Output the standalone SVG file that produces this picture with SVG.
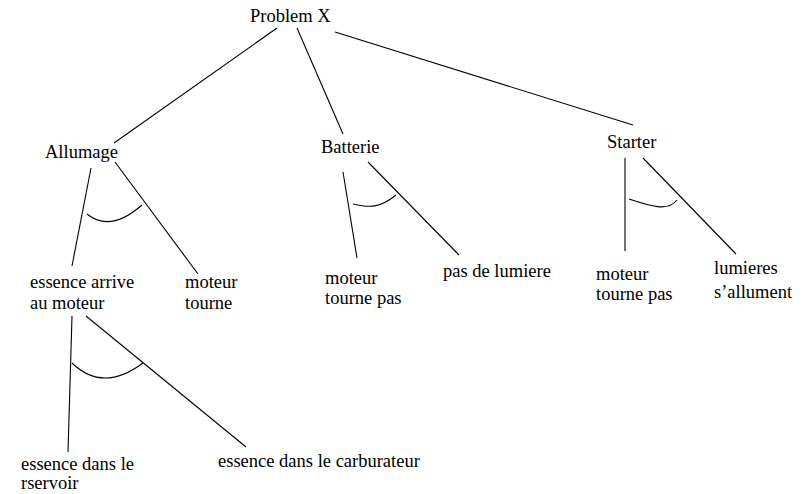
<svg xmlns="http://www.w3.org/2000/svg" width="809" height="494" viewBox="0 0 809 494">
  <style>
    text { font-family: 'Liberation Serif', 'Times New Roman', Times, serif; font-size: 18.5px; fill: #000; }
    .edge { stroke: #000; stroke-width: 1.1; fill: none; }
  </style>
  <rect width="809" height="494" fill="#fff"/>

  <!-- connectors: tree edges and AND arcs -->
  <g id="connectors">
    <line class="edge" x1="277" y1="28" x2="114" y2="143"/>
    <line class="edge" x1="297" y1="28" x2="343" y2="134"/>
    <line class="edge" x1="335" y1="32" x2="633" y2="125"/>

    <line class="edge" x1="91" y1="168" x2="72" y2="266"/>
    <line class="edge" x1="115" y1="162" x2="198" y2="274"/>
    <path class="edge" d="M87,214 Q110,233 142,205"/>

    <line class="edge" x1="343" y1="172" x2="357" y2="258"/>
    <line class="edge" x1="368" y1="162" x2="459" y2="255"/>
    <path class="edge" d="M353,204 C370,208 380,208 396,195"/>

    <line class="edge" x1="625" y1="158" x2="625" y2="251"/>
    <line class="edge" x1="643" y1="158" x2="736" y2="254"/>
    <path class="edge" d="M629,199 C650,206 668,212 677,200"/>

    <line class="edge" x1="72" y1="316" x2="68" y2="452"/>
    <line class="edge" x1="86" y1="316" x2="246" y2="447"/>
    <path class="edge" d="M72,363 Q103,393 143,363"/>
  </g>

  <g id="problem" font-family="Liberation Serif, serif"><text x="250" y="22">Problem X</text></g>
  <g id="allumage" font-family="Liberation Serif, serif"><text x="45" y="158">Allumage</text></g>
  <g id="batterie" font-family="Liberation Serif, serif"><text x="321" y="153">Batterie</text></g>
  <g id="starter" font-family="Liberation Serif, serif"><text x="607" y="148">Starter</text></g>

  <g id="essence-arrive" font-family="Liberation Serif, serif">
    <text x="30" y="288">essence arrive</text>
    <text x="30" y="309">au moteur</text>
  </g>
  <g id="moteur-tourne" font-family="Liberation Serif, serif">
    <text x="185" y="288">moteur</text>
    <text x="185" y="309">tourne</text>
  </g>
  <g id="batterie-moteur" font-family="Liberation Serif, serif">
    <text x="325" y="284">moteur</text>
    <text x="325" y="304">tourne pas</text>
  </g>
  <g id="pas-lumiere" font-family="Liberation Serif, serif"><text x="443" y="277">pas de lumiere</text></g>
  <g id="starter-moteur" font-family="Liberation Serif, serif">
    <text x="596" y="280">moteur</text>
    <text x="596" y="300">tourne pas</text>
  </g>
  <g id="lumieres" font-family="Liberation Serif, serif">
    <text x="714" y="274">lumieres</text>
    <text x="714" y="298">s’allument</text>
  </g>
  <g id="reservoir" font-family="Liberation Serif, serif">
    <text x="21" y="470">essence dans le</text>
    <text x="21" y="489">rservoir</text>
  </g>
  <g id="carburateur" font-family="Liberation Serif, serif"><text x="218" y="467">essence dans le carburateur</text></g>
</svg>
